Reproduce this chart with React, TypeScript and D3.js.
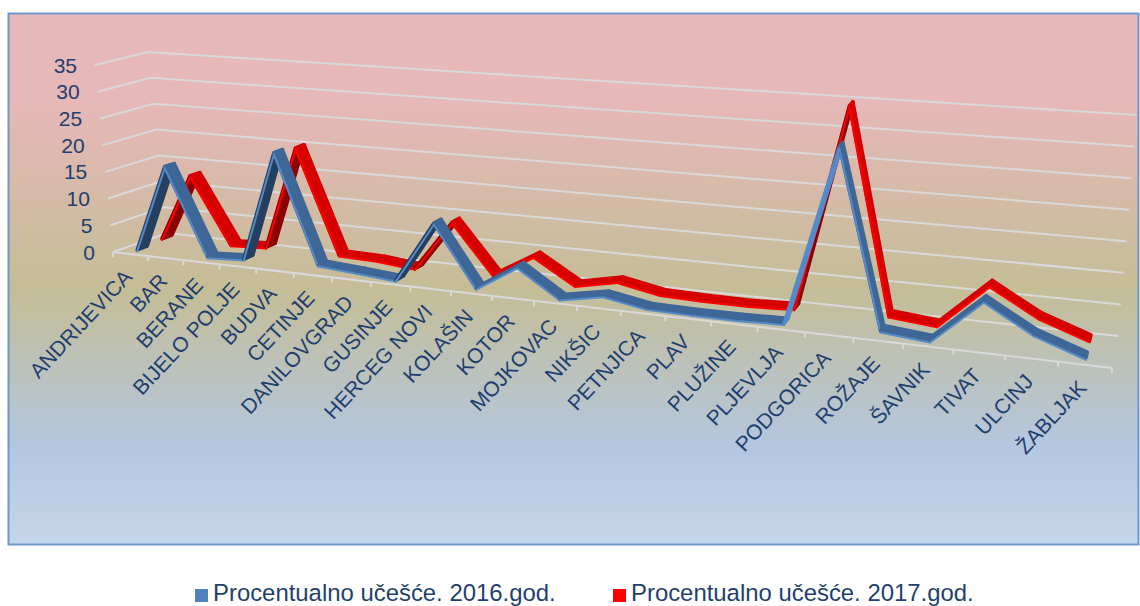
import React from 'react'
import * as d3 from 'd3'

const categories = ['ANDRIJEVICA', 'BAR', 'BERANE', 'BIJELO POLJE', 'BUDVA', 'CETINJE', 'DANILOVGRAD', 'GUSINJE', 'HERCEG NOVI', 'KOLAŠIN', 'KOTOR', 'MOJKOVAC', 'NIKŠIC', 'PETNJICA', 'PLAV', 'PLUŽINE', 'PLJEVLJA', 'PODGORICA', 'ROŽAJE', 'ŠAVNIK', 'TIVAT', 'ULCINJ', 'ŽABLJAK']
const values2016 = [0.3, 16.5, 0.5, 0.85, 20.9, 1.3, 0.8, 0.2, 11, 0.4, 4.9, 0.2, 1.6, 0.3, 0.2, 0.2, 0.4, 30, 1, 0.3, 7.5, 3.1, 0.4]
const values2017 = [0.7, 13.3, 1, 1.3, 20.3, 1.3, 1.1, 0.4, 9.4, 0.7, 4.8, 0.5, 2, 0.6, 0.4, 0.4, 0.7, 35, 1.2, 0.5, 7.8, 3.5, 0.8]
const yTicks = [0, 5, 10, 15, 20, 25, 30, 35]
const legendLabels = ['Procentualno učešće. 2016.god.', 'Procentualno učešće. 2017.god.']

const width = 1140
const height = 606
const textColor = '#1f3f6e'
const gridColor = '#d9d9d9'

// the eight corners of the 3D box as they land on screen
const corners = {
  frontLeft: [[113, 252], [95, 65]],
  backLeft: [[167, 233], [148, 52]],
  frontRight: [[1112, 368], [1132, 140]],
  backRight: [[1118, 336], [1137, 115]],
}

const sScale = d3.scaleLinear().domain([0, categories.length]).range([0, 1])
const vScale = d3.scaleLinear().domain([0, 35]).range([0, 1])
const perspective = 1.2575

const mix = (a: number[], b: number[], t: number) => [a[0] + (b[0] - a[0]) * t, a[1] + (b[1] - a[1]) * t]

// u = category position, v = value, d = depth (0 front, 1 back wall)
const project = (u: number, v: number, d: number) => {
  const s = sScale(u)
  const t = s / (s + perspective * (1 - s))
  const n = vScale(v)
  const left = mix(mix(corners.frontLeft[0], corners.frontLeft[1], n), mix(corners.backLeft[0], corners.backLeft[1], n), d)
  const right = mix(mix(corners.frontRight[0], corners.frontRight[1], n), mix(corners.backRight[0], corners.backRight[1], n), d)
  return mix(left, right, t)
}

const line = d3.line()
const poly = (pts: number[][]) => line(pts as [number, number][]) + 'Z'

const signedArea = (pts: number[][]) => d3.polygonArea(pts as [number, number][])

const Ribbon = ({values, d0, d1, top, under, edge}: any) => {
  return (
    <g>
      {values.slice(0, -1).map((v: number, i: number) => {
        const next = values[i + 1]
        const quad = [project(i + 0.5, v, d0), project(i + 1.5, next, d0), project(i + 1.5, next, d1), project(i + 0.5, v, d1)]
        const front = [project(i + 0.5, v - 0.25, d0), project(i + 1.5, next - 0.25, d0)]
        const area = signedArea(quad)
        // a steep rise seen nearly edge-on shows the lit side, not the dark underside
        const span = Math.hypot(quad[1][0] - quad[0][0], quad[1][1] - quad[0][1])
        const fill = area > 0 ? top : -area / span < 2.4 ? edge : under
        return (
          <g key={i}>
            <path d={poly(quad)} fill={fill} stroke={fill} strokeWidth={3.4} strokeLinejoin="round" />
            <path d={line(front as [number, number][]) as string} fill="none" stroke={edge} strokeWidth={2} strokeLinecap="round" />
          </g>
        )
      })}
    </g>
  )
}

export default function App() {
  const floorFront = [project(0, 0, 0), project(categories.length, 0, 0)]
  return (
    <svg width={width} height={height} style={{position: 'absolute', left: 0, top: 0}} fontFamily="'Liberation Sans', Arial, sans-serif">
      <defs>
        <linearGradient id="bg" x1="0" y1="0" x2="0" y2="1">
          <stop offset="0" stopColor="#e6b8b7" />
          <stop offset="0.17" stopColor="#e6b8b7" />
          <stop offset="0.52" stopColor="#c4bd97" />
          <stop offset="0.82" stopColor="#b3c7e0" />
          <stop offset="1" stopColor="#c6d6ea" />
        </linearGradient>
      </defs>
      <rect x={8.5} y={13.5} width={1130} height={531} fill="url(#bg)" stroke="#6f97cb" strokeWidth={2} />

      {yTicks.map(v => (
        <g key={v}>
          <path d={line([project(0, v, 0), project(0, v, 1), project(categories.length, v, 1)] as [number, number][]) as string} fill="none" stroke={gridColor} strokeWidth={2} />
          <text x={project(0, v, 0)[0] - 18} y={project(0, v, 0)[1] + 7.5} textAnchor="end" fontSize={21} fill={textColor}>{v}</text>
        </g>
      ))}

      <path d={line(floorFront as [number, number][]) as string} fill="none" stroke={gridColor} strokeWidth={2} />
      {d3.range(categories.length + 1).map(i => {
        const p = project(i, 0, 0)
        return <line key={i} x1={p[0]} y1={p[1]} x2={p[0]} y2={p[1] + 5} stroke={gridColor} strokeWidth={2} />
      })}

      {categories.map((c, i) => {
        const p = project(i + 0.5, 0, 0)
        return (
          <text key={c} transform={`translate(${p[0] + 3},${p[1] + 24}) rotate(-47)`} textAnchor="end" fontSize={21} fill={textColor}>{c}</text>
        )
      })}

      <Ribbon values={values2017} d0={0.6} d1={0.79} top="#d60000" under="#8c0000" edge="#ff0000" />
      <Ribbon values={values2016} d0={0.13} d1={0.32} top="#3e6797" under="#243f60" edge="#558ac8" />

      <rect x={195} y={589} width={13} height={13} fill="#4f81bd" />
      <text x={213} y={601} fontSize={23.9} fill={textColor}>{legendLabels[0]}</text>
      <rect x={613} y={589} width={13} height={13} fill="#ff0000" />
      <text x={631} y={601} fontSize={23.9} fill={textColor}>{legendLabels[1]}</text>
    </svg>
  )
}
